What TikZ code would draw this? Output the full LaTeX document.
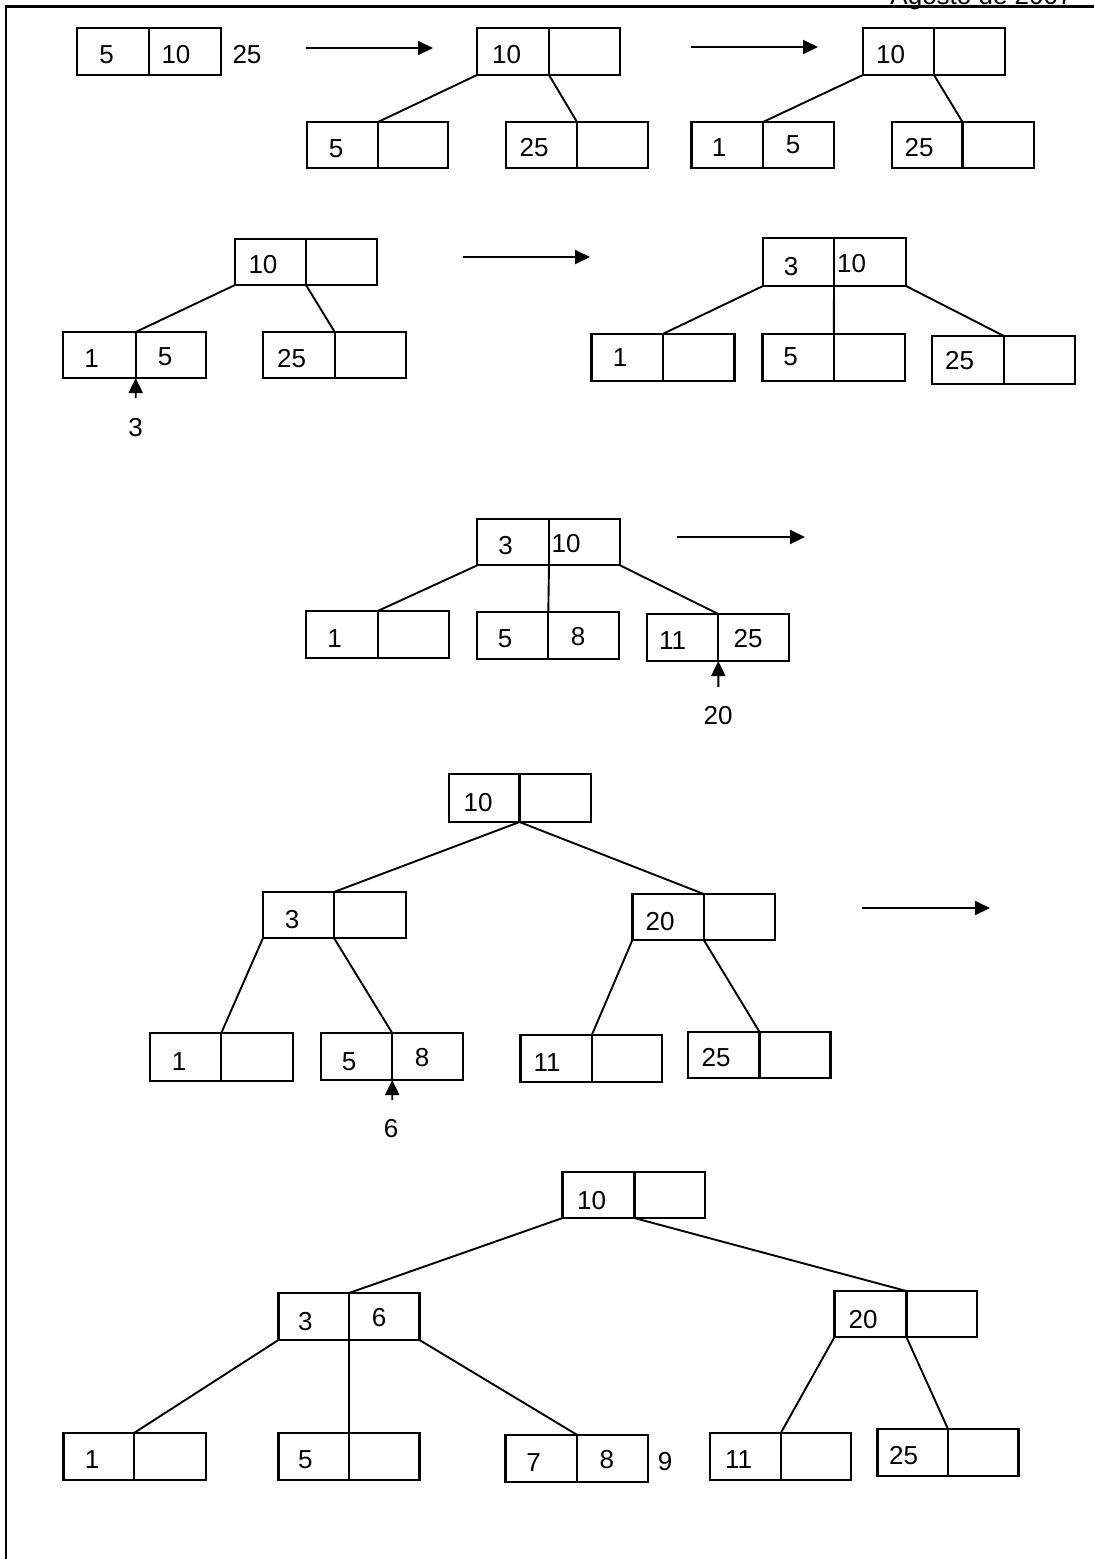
\documentclass[tikz,border=0pt]{standalone}
\usepackage{fontspec}
\setmainfont{Liberation Sans}
\usetikzlibrary{arrows.meta,fit}

% two-cell B-tree node: name, left x, divider x, right x, top y, bottom y
\newcommand\cellpair[6]{%
  \node[cell, fit={(#2,#5) (#3,#6)}] (#1a) {};
  \node[cell, fit={(#3,#5) (#4,#6)}] (#1b) {};}

\begin{document}
\begin{tikzpicture}[x=0.5pt, y=-0.5pt,
  cell/.style={draw, line width=1.15pt, inner sep=0pt, outer sep=0pt},
  num/.style={inner sep=0pt, font=\fontsize{13}{15}\selectfont},
  edge/.style={line width=0.95pt},
  flowarrow/.style={line width=0.95pt, -{Triangle[length=7.5pt,width=7pt]}}]
\useasboundingbox (0,0) rectangle (1093,1559);

% page frame and running header
\draw[line width=1.2pt] (6,1560) -- (6,6.5) -- (1094,6.5);
\node[num, anchor=base east] (hdr) at (1073,4) {Agosto de 2007};

% ---------- row 1 ----------
\cellpair{A1}{77}{149}{221}{28}{75}
\node[num] (A1t1) at (106.7,55) {5};
\node[num] (A1t2) at (176,55) {10};
\node[num] (A1t3) at (247,55) {25};

\coordinate (r1s) at (306,48); \coordinate (r1e) at (433,48);
\draw[flowarrow] (r1s) -- (r1e);

\cellpair{A2}{477}{549}{620}{28}{75}
\node[num] (A2t) at (506.5,55) {10};
\cellpair{A2L}{307}{378}{448}{122}{168}
\node[num] (A2Lt) at (336,149) {5};
\cellpair{A2R}{506}{577}{648}{122}{168}
\node[num] (A2Rt) at (534,148) {25};
\draw[edge] (A2a.south west) -- (A2La.north east);
\draw[edge] (A2a.south east) -- (A2Ra.north east);

\coordinate (r2s) at (691,47); \coordinate (r2e) at (818,47);
\draw[flowarrow] (r2s) -- (r2e);

\cellpair{A3}{863}{934}{1005}{28}{75}
\node[num] (A3t) at (890.6,55) {10};
\cellpair{A3L}{691.5}{763}{834}{122}{168}
\node[num] (A3Lt1) at (719,148) {1};
\node[num] (A3Lt2) at (793,145) {5};
\cellpair{A3R}{892}{962.5}{1034}{122}{168}
\node[num] (A3Rt) at (919,148) {25};
\draw[edge] (A3a.south west) -- (A3La.north east);
\draw[edge] (A3a.south east) -- (A3Ra.north east);

% ---------- row 2 ----------
\cellpair{B1}{235}{306}{377}{239}{285}
\node[num] (B1t) at (263,265) {10};
\cellpair{B1L}{63}{135.7}{205.7}{332}{378}
\node[num] (B1Lt1) at (91.7,359) {1};
\node[num] (B1Lt2) at (165,357) {5};
\cellpair{B1R}{263}{334.7}{405.7}{332}{378}
\node[num] (B1Rt) at (291.7,359) {25};
\draw[edge] (B1a.south west) -- (B1La.north east);
\draw[edge] (B1a.south east) -- (B1Ra.north east);
\coordinate (u3) at (135.7,398);
\draw[flowarrow] (u3) -- (B1La.south east);
\node[num] (B1ins) at (135.7,428) {3};

\coordinate (r3s) at (463,257); \coordinate (r3e) at (590,257);
\draw[flowarrow] (r3s) -- (r3e);

\cellpair{B2}{763}{834}{906}{238}{286}
\node[num] (B2t1) at (791,267) {3};
\node[num] (B2t2) at (851.5,264) {10};
\cellpair{B2L}{591.6}{662.7}{734.5}{334}{381}
\node[num] (B2Lt) at (620,358) {1};
\cellpair{B2M}{762.4}{833.8}{905.2}{334}{381}
\node[num] (B2Mt) at (790.5,357) {5};
\cellpair{B2R}{931.8}{1003.9}{1075.3}{336}{383.7}
\node[num] (B2Rt) at (959.5,361) {25};
\draw[edge] (B2a.south west) -- (B2La.north east);
\draw[edge] (B2a.south east) -- (B2Ma.north east);
\draw[edge] (B2b.south east) -- (B2Ra.north east);

% ---------- row 3 ----------
\cellpair{C}{477.3}{549}{620}{519}{565.3}
\node[num] (Ct1) at (505.5,546) {3};
\node[num] (Ct2) at (566,544) {10};
\cellpair{CL}{305.7}{377.7}{449}{611}{658.3}
\node[num] (CLt) at (334.5,639) {1};
\cellpair{CM}{476.7}{548.3}{619.3}{612.3}{659.3}
\node[num] (CMt1) at (505,639) {5};
\node[num] (CMt2) at (578,637) {8};
\cellpair{CR}{646.7}{718.3}{789}{614}{661}
\node[num] (CRt1) at (672.5,641) {11};
\node[num] (CRt2) at (748,639) {25};
\draw[edge] (Ca.south west) -- (CLa.north east);
\draw[edge] (Ca.south east) -- (CMa.north east);
\draw[edge] (Cb.south east) -- (CRa.north east);
\coordinate (u20) at (718.3,687);
\draw[flowarrow] (u20) -- (CRa.south east);
\node[num] (Cins) at (718,716) {20};

\coordinate (r4s) at (677,537); \coordinate (r4e) at (805,537);
\draw[flowarrow] (r4s) -- (r4e);

% ---------- row 4 ----------
\cellpair{D}{449}{519.5}{591}{774}{822}
\node[num] (Dt) at (478,803) {10};
\cellpair{DL}{263}{334}{406}{892}{938}
\node[num] (DLt) at (292,920) {3};
\cellpair{DR}{632.4}{703.8}{774.8}{894}{940}
\node[num] (DRt) at (660,922) {20};
\draw[edge] (Da.south east) -- (DLa.north east);
\draw[edge] (Da.south east) -- (DRa.north east);

\cellpair{DLL}{149.8}{221.3}{292.7}{1033}{1081}
\node[num] (DLLt) at (179,1062) {1};
\cellpair{DLR}{320.8}{392.2}{462.8}{1033}{1080}
\node[num] (DLRt1) at (349,1062) {5};
\node[num] (DLRt2) at (422,1058) {8};
\cellpair{DRL}{520.4}{591.8}{662.3}{1035}{1082}
\node[num] (DRLt) at (547,1063) {11};
\cellpair{DRR}{688.2}{759.6}{830.6}{1032}{1078}
\node[num] (DRRt) at (716,1058) {25};
\draw[edge] (DLa.south west) -- (DLLa.north east);
\draw[edge] (DLa.south east) -- (DLRa.north east);
\draw[edge] (DRa.south west) -- (DRLa.north east);
\draw[edge] (DRa.south east) -- (DRRa.north east);
\coordinate (u6) at (392.2,1100);
\draw[flowarrow] (u6) -- (DLRa.south east);
\node[num] (Dins) at (391,1129) {6};

\coordinate (r5s) at (862,908); \coordinate (r5e) at (990,908);
\draw[flowarrow] (r5s) -- (r5e);

% ---------- row 5 ----------
\cellpair{E}{562.5}{634.4}{705}{1172}{1218}
\node[num] (Et) at (591.6,1201) {10};
\cellpair{EL}{278.4}{349}{419.5}{1293}{1340}
\node[num] (ELt1) at (305.3,1322) {3};
\node[num] (ELt2) at (379,1318) {6};
\cellpair{ER}{834.5}{906.4}{977}{1291}{1337}
\node[num] (ERt) at (863,1320) {20};
\draw[edge] (Ea.south west) -- (ELa.north east);
\draw[edge] (Ea.south east) -- (ERa.north east);

\cellpair{E1}{63.5}{134}{206}{1433}{1480}
\node[num] (E1t) at (92,1460) {1};
\cellpair{E2}{278.4}{349}{419.5}{1433}{1480}
\node[num] (E2t) at (305.3,1460) {5};
\cellpair{E3}{505.4}{577.3}{647.8}{1435}{1482}
\node[num] (E3t1) at (533.6,1463) {7};
\node[num] (E3t2) at (606.8,1460) {8};
\node[num] (E3t3) at (665,1462) {9};
\cellpair{E4}{710.2}{780.8}{851.3}{1433}{1480}
\node[num] (E4t) at (738.5,1460) {11};
\cellpair{E5}{877.5}{948}{1018.5}{1429}{1476}
\node[num] (E5t) at (903.7,1456) {25};
\draw[edge] (ELa.south west) -- (E1a.north east);
\draw[edge] (ELa.south east) -- (E2a.north east);
\draw[edge] (ELb.south east) -- (E3a.north east);
\draw[edge] (ERa.south west) -- (E4a.north east);
\draw[edge] (ERa.south east) -- (E5a.north east);
\end{tikzpicture}
\end{document}
